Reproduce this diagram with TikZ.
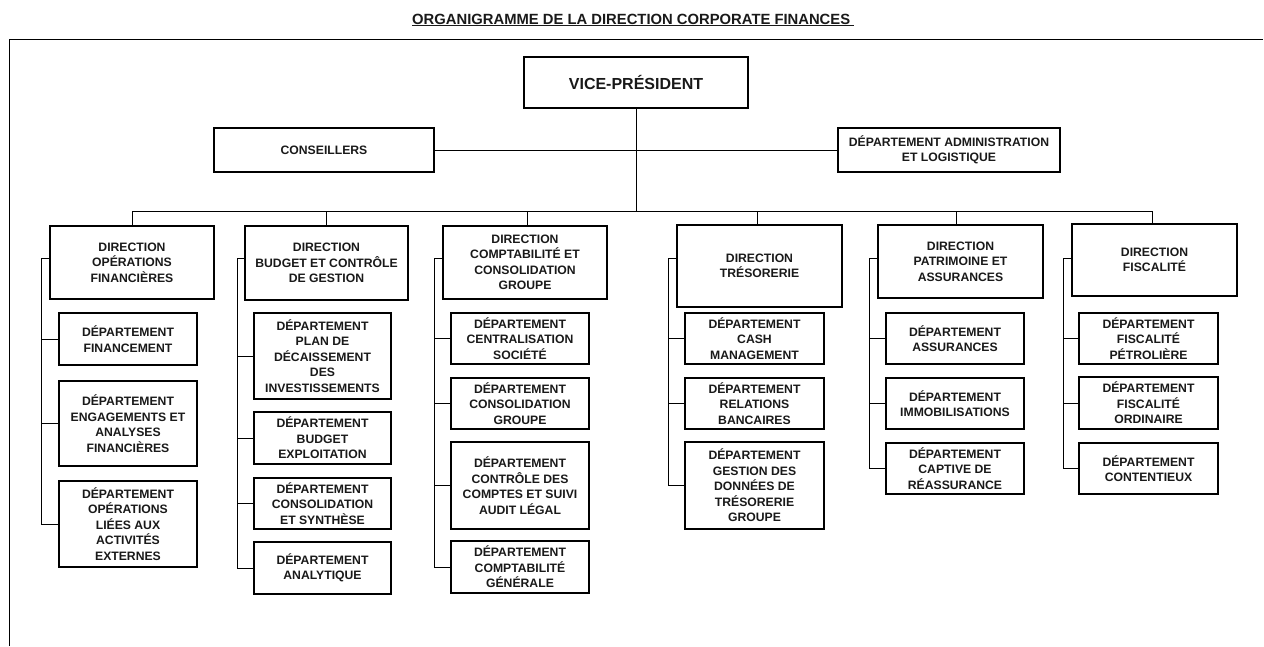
\documentclass[tikz,border=0pt]{standalone}
\usepackage{fontspec}
\setmainfont{Liberation Sans}
\begin{document}
\begin{tikzpicture}[x=1pt,y=-1pt,
  box/.style={draw=black,line width=1.1pt,inner sep=0pt,align=center,
    font=\fontsize{12.2}{15.5}\selectfont\bfseries,text=black!90},
  link/.style={draw=black,line width=0.9pt}]
\useasboundingbox (0,0) rectangle (1264,646);
% title and frame
\node[anchor=base west,inner sep=0pt,font=\fontsize{14.8}{17}\selectfont\bfseries,text=black!90]
  (title) at (412,24) {\underline{ORGANIGRAMME DE LA DIRECTION CORPORATE FINANCES\ }};
\coordinate (fbl) at (9,646);
\coordinate (ftl) at (9,39);
\coordinate (ftr) at (1263,39);
\draw[link] (fbl) -- (ftl) -- (ftr);
% top level
\node[box,minimum width=224pt,minimum height=51pt,font=\fontsize{16}{19}\selectfont\bfseries] (vp) at (636,82.5) {VICE-PRÉSIDENT};
\node[box,minimum width=220pt,minimum height=44pt] (cons) at (324,150) {CONSEILLERS};
\node[box,minimum width=222pt,minimum height=44pt] (adm) at (949,150) {DÉPARTEMENT ADMINISTRATION\\ET LOGISTIQUE};
% directions
\node[box,minimum width=164pt,minimum height=73pt] (d1) at (132,262.5) {DIRECTION\\OPÉRATIONS\\FINANCIÈRES};
\node[box,minimum width=163pt,minimum height=74pt] (d2) at (326.5,263) {DIRECTION\\BUDGET ET CONTRÔLE\\DE GESTION};
\node[box,minimum width=164pt,minimum height=73pt] (d3) at (525,262.5) {DIRECTION\\COMPTABILITÉ ET\\CONSOLIDATION\\GROUPE};
\node[box,minimum width=165pt,minimum height=82pt] (d4) at (759.5,266) {DIRECTION\\TRÉSORERIE};
\node[box,minimum width=165pt,minimum height=73pt] (d5) at (960.5,261.5) {DIRECTION\\PATRIMOINE ET\\ASSURANCES};
\node[box,minimum width=165pt,minimum height=72pt] (d6) at (1154.5,260) {DIRECTION\\FISCALITÉ};
% column 1
\node[box,minimum width=138pt,minimum height=52pt] (f1) at (128,339) {DÉPARTEMENT\\FINANCEMENT};
\node[box,minimum width=138pt,minimum height=85pt] (f2) at (128,423.5) {DÉPARTEMENT\\ENGAGEMENTS ET\\ANALYSES\\FINANCIÈRES};
\node[box,minimum width=138pt,minimum height=86pt] (f3) at (128,524) {DÉPARTEMENT\\OPÉRATIONS\\LIÉES AUX\\ACTIVITÉS\\EXTERNES};
% column 2
\node[box,minimum width=137pt,minimum height=86pt] (b1) at (322.5,356) {DÉPARTEMENT\\PLAN DE\\DÉCAISSEMENT\\DES\\INVESTISSEMENTS};
\node[box,minimum width=137pt,minimum height=52pt] (b2) at (322.5,438) {DÉPARTEMENT\\BUDGET\\EXPLOITATION};
\node[box,minimum width=137pt,minimum height=51pt] (b3) at (322.5,503.5) {DÉPARTEMENT\\CONSOLIDATION\\ET SYNTHÈSE};
\node[box,minimum width=137pt,minimum height=52pt] (b4) at (322.5,568) {DÉPARTEMENT\\ANALYTIQUE};
% column 3
\node[box,minimum width=138pt,minimum height=51pt] (c1) at (520,338.5) {DÉPARTEMENT\\CENTRALISATION\\SOCIÉTÉ};
\node[box,minimum width=138pt,minimum height=51pt] (c2) at (520,403.5) {DÉPARTEMENT\\CONSOLIDATION\\GROUPE};
\node[box,minimum width=138pt,minimum height=87pt] (c3) at (520,485.5) {DÉPARTEMENT\\CONTRÔLE DES\\COMPTES ET SUIVI\\AUDIT LÉGAL};
\node[box,minimum width=138pt,minimum height=52pt] (c4) at (520,567) {DÉPARTEMENT\\COMPTABILITÉ\\GÉNÉRALE};
% column 4
\node[box,minimum width=139pt,minimum height=51pt] (t1) at (754.5,338.5) {DÉPARTEMENT\\CASH\\MANAGEMENT};
\node[box,minimum width=139pt,minimum height=51pt] (t2) at (754.5,403.5) {DÉPARTEMENT\\RELATIONS\\BANCAIRES};
\node[box,minimum width=139pt,minimum height=87pt] (t3) at (754.5,485.5) {DÉPARTEMENT\\GESTION DES\\DONNÉES DE\\TRÉSORERIE\\GROUPE};
% column 5
\node[box,minimum width=138pt,minimum height=51pt] (p1) at (955,338.5) {DÉPARTEMENT\\ASSURANCES};
\node[box,minimum width=138pt,minimum height=51pt] (p2) at (955,403.5) {DÉPARTEMENT\\IMMOBILISATIONS};
\node[box,minimum width=138pt,minimum height=51pt] (p3) at (955,468.5) {DÉPARTEMENT\\CAPTIVE DE\\RÉASSURANCE};
% column 6
\node[box,minimum width=139pt,minimum height=51pt] (x1) at (1148.5,338.5) {DÉPARTEMENT\\FISCALITÉ\\PÉTROLIÈRE};
\node[box,minimum width=139pt,minimum height=52pt] (x2) at (1148.5,403) {DÉPARTEMENT\\FISCALITÉ\\ORDINAIRE};
\node[box,minimum width=139pt,minimum height=51pt] (x3) at (1148.5,468.5) {DÉPARTEMENT\\CONTENTIEUX};
% top connectors
\draw[link] (cons.east) -- (cons.east -| adm.west);
\coordinate (busL) at (132,211);
\coordinate (busR) at (1152,211);
\draw[link] (busL) -- (busR);
\draw[link] (vp.south) -- (vp.south |- busL);
\coordinate (k1) at (132,211);
\coordinate (k2) at (326,211);
\coordinate (k3) at (527,211);
\coordinate (k4) at (757,211);
\coordinate (k5) at (956,211);
\coordinate (k6) at (1152,211);
\draw[link] (k1) -- (k1 |- d1.north);
\draw[link] (k2) -- (k2 |- d2.north);
\draw[link] (k3) -- (k3 |- d3.north);
\draw[link] (k4) -- (k4 |- d4.north);
\draw[link] (k5) -- (k5 |- d5.north);
\draw[link] (k6) -- (k6 |- d6.north);
% spines
\coordinate (s1) at (41,258);
\coordinate (s2) at (237,258);
\coordinate (s3) at (434,258);
\coordinate (s4) at (668,258);
\coordinate (s5) at (869,258);
\coordinate (s6) at (1063,258);
\draw[link] (d1.west |- s1) -- (s1) |- (f3.west);
\draw[link] (s1 |- f1.west) -- (f1.west);
\draw[link] (s1 |- f2.west) -- (f2.west);
\draw[link] (d2.west |- s2) -- (s2) |- (b4.west);
\draw[link] (s2 |- b1.west) -- (b1.west);
\draw[link] (s2 |- b2.west) -- (b2.west);
\draw[link] (s2 |- b3.west) -- (b3.west);
\draw[link] (d3.west |- s3) -- (s3) |- (c4.west);
\draw[link] (s3 |- c1.west) -- (c1.west);
\draw[link] (s3 |- c2.west) -- (c2.west);
\draw[link] (s3 |- c3.west) -- (c3.west);
\draw[link] (d4.west |- s4) -- (s4) |- (t3.west);
\draw[link] (s4 |- t1.west) -- (t1.west);
\draw[link] (s4 |- t2.west) -- (t2.west);
\draw[link] (d5.west |- s5) -- (s5) |- (p3.west);
\draw[link] (s5 |- p1.west) -- (p1.west);
\draw[link] (s5 |- p2.west) -- (p2.west);
\draw[link] (d6.west |- s6) -- (s6) |- (x3.west);
\draw[link] (s6 |- x1.west) -- (x1.west);
\draw[link] (s6 |- x2.west) -- (x2.west);
\end{tikzpicture}
\end{document}
